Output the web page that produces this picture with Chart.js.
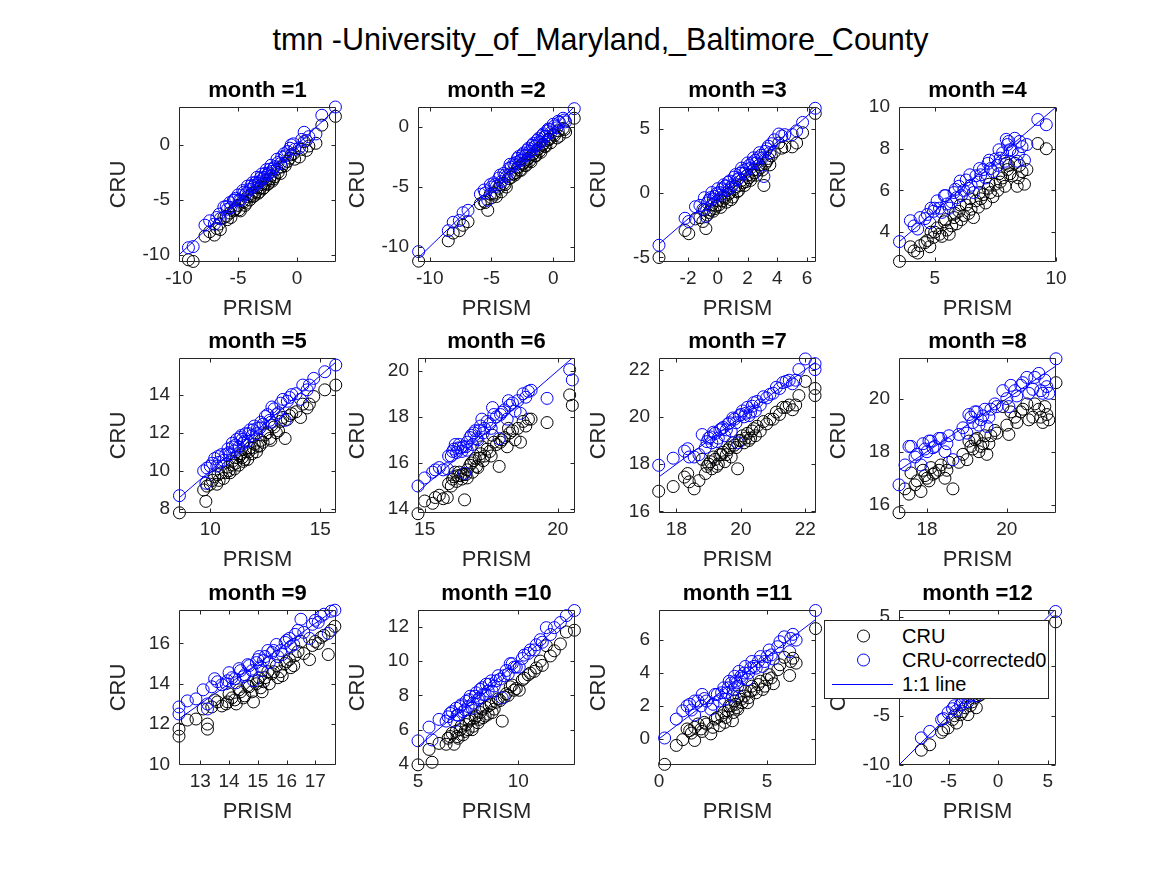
<!DOCTYPE html>
<html>
<head>
<meta charset="utf-8">
<script src="https://cdn.jsdelivr.net/npm/chart.js@4.4.1/dist/chart.umd.min.js"></script>
<style>
  body { margin: 0; background: #fff; }
  #fig { position: relative; width: 1167px; height: 875px; background: #fff; overflow: hidden;
         font-family: "Liberation Sans", Arial, Helvetica, sans-serif; }
  #fig canvas { position: absolute; }
  #suptitle { position: absolute; left: 17px; top: 20px; width: 1167px; text-align: center;
              font-size: 30.5px; line-height: 38px; color: #000; }
  #legend { position: absolute; left: 824px; top: 620px; width: 223px; height: 77px;
            border: 1px solid #262626; background: #fff; z-index: 5; }
  #legend svg { position: absolute; left: 0; top: 0; }
  #legend span { position: absolute; left: 77px; font-size: 20px; line-height: 22px; color: #000; white-space: nowrap; }
</style>
</head>
<body>
<div id="fig">
  <div id="suptitle">tmn -University_of_Maryland,_Baltimore_County</div>
  <div id="legend">
    <svg width="223" height="77">
      <circle cx="38.5" cy="15" r="6" fill="none" stroke="#000" stroke-width="1"/>
      <circle cx="38.5" cy="39" r="6" fill="none" stroke="#0000ff" stroke-width="1"/>
      <line x1="7" y1="63.5" x2="68" y2="63.5" stroke="#0000ff" stroke-width="1"/>
    </svg>
    <span style="top:4px">CRU</span>
    <span style="top:28px">CRU-corrected0</span>
    <span style="top:52px">1:1 line</span>
  </div>
</div>
<script>
// PRISM (x), CRU (black) and CRU-corrected0 (blue) per month
const prismM1 = [-9.2,-8.8,-7.8,-7.4,-7.0,-6.8,-6.5,-6.2,-5.9,-5.7,-5.4,-5.2,-5.0,-4.8,-4.6,-4.4,-4.2,-4.0,-3.8,-3.6,-3.4,-3.2,-3.0,-2.8,-2.6,-2.4,-2.2,-2.0,-1.7,-1.4,-1.1,-0.8,-0.5,-0.2,0.2,0.6,1.0,1.6,2.1,3.25,
  -6.6,-6.0,-5.6,-5.3,-4.9,-4.5,-4.3,-3.9,-3.7,-3.5,-3.3,-3.1,-2.9,-2.7,-2.5,-2.3,-2.1,-1.9,-1.6,-1.3,-1.0,-0.6,-0.3,0.4,0.8];
const cruM1 = [-10.45,-10.6,-8.3,-7.9,-8.2,-7.6,-7.7,-6.6,-6.8,-6.2,-6.0,-5.8,-5.5,-6.0,-5.1,-5.5,-4.7,-5.0,-4.4,-4.6,-3.9,-4.3,-3.6,-3.9,-3.2,-3.5,-2.8,-3.1,-2.2,-2.6,-1.7,-1.5,-0.9,-1.3,-1.1,0.3,-0.1,0.15,1.8,2.6,
  -7.2,-6.5,-6.6,-5.9,-5.9,-5.2,-5.3,-4.6,-4.7,-4.3,-4.4,-3.9,-4.0,-3.5,-3.6,-3.1,-3.3,-2.9,-2.5,-2.0,-1.9,-1.2,-0.8,-0.4,-0.5];
const corrM1 = [-9.35,-9.25,-7.3,-6.9,-7.2,-6.6,-6.7,-5.65,-5.85,-5.25,-5.05,-4.85,-4.55,-5.05,-4.15,-4.55,-3.75,-4.05,-3.45,-3.65,-2.95,-3.35,-2.65,-2.95,-2.25,-2.55,-1.85,-2.15,-1.3,-1.7,-0.8,-0.6,0.0,-0.4,-0.25,1.15,0.75,1.0,2.7,3.45,
  -6.3,-5.6,-5.7,-5.0,-5.0,-4.3,-4.4,-3.7,-3.8,-3.4,-3.5,-3.0,-3.1,-2.6,-2.7,-2.2,-2.4,-2.0,-1.6,-1.1,-1.0,-0.3,0.1,0.5,0.4];

const prismM2 = [-10.9,-8.5,-8.1,-7.6,-7.3,-6.9,-5.6,-5.3,-5.0,-4.8,-4.6,-4.4,-4.2,-4.0,-3.8,-3.6,-3.4,-3.2,-3.0,-2.8,-2.6,-2.4,-2.2,-2.0,-1.8,-1.6,-1.4,-1.2,-1.0,-0.8,-0.6,-0.4,-0.2,0.0,0.3,0.5,0.8,1.0,1.7,
  -5.9,-5.5,-5.1,-4.7,-4.3,-3.9,-3.5,-3.1,-2.9,-2.7,-2.5,-2.3,-2.1,-1.9,-1.7,-1.5,-1.3,-1.1,-0.9,-0.7,-0.5,-0.3,0.1,0.4,0.9];
const cruM2 = [-11.2,-9.5,-8.85,-8.65,-8.2,-7.9,-6.2,-6.95,-5.9,-5.5,-5.8,-5.1,-5.4,-4.7,-5.0,-4.3,-4.2,-3.9,-3.8,-3.3,-3.6,-3.0,-3.2,-2.6,-2.9,-2.2,-2.4,-1.8,-2.1,-1.4,-1.6,-1.0,-1.3,-0.6,-0.9,-0.75,-0.1,-0.4,0.75,
  -6.4,-6.3,-5.6,-5.6,-4.8,-4.8,-3.9,-4.0,-3.4,-3.6,-3.1,-3.2,-2.7,-2.8,-2.3,-2.4,-1.9,-2.0,-1.5,-1.6,-1.1,-1.0,-0.7,-0.3,-0.2];
const corrM2 = [-10.4,-8.65,-7.95,-7.8,-7.15,-6.95,-5.25,-6.1,-5.0,-4.65,-4.95,-4.25,-4.55,-3.85,-4.15,-3.45,-3.35,-3.05,-2.95,-2.45,-2.75,-2.15,-2.35,-1.75,-2.05,-1.35,-1.55,-0.95,-1.25,-0.55,-0.75,-0.15,-0.45,0.25,-0.05,0.4,0.75,0.45,1.55,
  -5.6,-5.5,-4.8,-4.8,-4.0,-4.0,-3.1,-3.2,-2.6,-2.8,-2.3,-2.4,-1.9,-2.0,-1.5,-1.6,-1.1,-1.2,-0.7,-0.8,-0.3,-0.2,0.1,0.5,0.6];

const prismM3 = [-3.95,-2.2,-1.95,-1.5,-1.2,-0.9,-0.8,-0.6,-0.4,-0.2,0.0,0.2,0.4,0.6,0.8,1.0,1.2,1.4,1.6,1.8,2.0,2.2,2.4,2.6,2.8,3.0,3.1,3.3,3.5,3.8,4.1,4.5,5.3,5.7,6.55,
  -1.0,-0.7,-0.5,-0.3,-0.1,0.1,0.3,0.5,0.7,0.9,1.1,1.3,1.5,1.7,1.9,2.1,2.3,2.5,2.7,2.9,3.2,3.4,3.6,4.3,5.0];
const cruM3 = [-5.0,-2.9,-3.15,-2.0,-1.9,-1.3,-2.75,-1.5,-0.9,-1.2,-0.6,-1.1,-0.3,-0.7,0.0,-0.3,0.5,0.2,1.0,0.6,1.4,1.0,1.8,1.4,2.2,1.8,0.6,2.5,2.2,3.2,3.9,3.6,3.9,4.7,6.2,
  -2.2,-1.7,-1.3,-1.4,-1.0,-0.9,-0.6,-0.4,-0.1,-0.5,0.3,0.1,0.6,0.8,0.9,1.2,1.4,1.6,1.8,2.0,2.3,2.7,2.9,3.5,3.6];
const corrM3 = [-4.05,-1.95,-2.2,-1.05,-0.95,-0.35,-1.8,-0.55,0.05,-0.25,0.35,-0.15,0.65,0.25,0.95,0.65,1.45,1.15,1.95,1.55,2.35,1.95,2.75,2.35,3.15,2.75,1.3,3.45,3.15,4.15,4.6,4.55,4.85,5.5,6.6,
  -1.25,-0.75,-0.35,-0.45,-0.05,0.05,0.35,0.55,0.85,0.45,1.25,1.05,1.55,1.75,1.85,2.15,2.35,2.55,2.75,2.95,3.25,3.65,3.85,4.45,4.55];

const prismM4 = [3.55,4.0,4.15,4.4,4.7,4.95,5.1,5.2,5.4,5.5,5.6,5.8,5.9,6.0,6.2,6.3,6.4,6.6,6.7,6.8,7.0,7.1,7.2,7.4,7.5,7.6,7.8,7.9,8.0,8.2,8.3,8.4,8.6,8.8,9.25,9.6,
  4.3,4.6,4.8,5.0,5.3,5.7,6.1,6.5,6.9,7.3,7.7,8.1,8.5,8.7,6.05,6.45,6.85,7.25,7.65,8.05,5.45,5.85,4.85,8.45,7.95];
const cruM4 = [2.6,3.3,3.1,3.35,3.6,3.75,4.2,3.9,4.5,4.1,3.9,4.7,4.4,5.0,4.8,5.3,4.9,4.7,5.5,5.2,5.8,5.4,6.1,5.7,6.3,6.0,6.6,6.2,7.0,6.7,7.3,6.2,6.9,7.0,8.25,8.0,
  3.0,3.5,3.3,4.0,3.8,4.3,4.6,5.1,5.6,5.9,6.4,6.8,7.2,6.3,5.3,5.6,5.9,6.3,6.8,7.2,4.6,4.9,4.0,6.6,7.3];
const corrM4 = [3.55,4.55,4.3,4.7,4.85,5.0,5.5,5.15,5.75,5.35,5.15,5.9,5.65,6.2,6.0,6.5,6.1,5.9,6.7,6.4,7.0,6.6,7.3,6.9,7.5,7.2,7.8,7.4,8.2,7.9,8.5,7.4,8.1,8.2,9.4,9.15,
  4.15,4.65,4.45,5.15,4.95,5.45,5.75,6.25,6.75,7.05,7.55,7.95,8.35,7.45,6.45,6.75,7.05,7.45,7.95,8.35,5.75,6.05,5.15,7.75,8.45];

const prismM5 = [8.6,9.8,9.85,9.7,10.1,10.3,10.5,10.6,10.8,10.9,11.0,11.1,11.2,11.3,11.4,11.5,11.6,11.7,11.8,11.9,12.0,12.1,12.3,12.5,12.7,12.9,13.0,13.2,13.4,13.7,14.1,14.2,14.5,14.7,15.2,15.7,
  10.0,10.2,10.4,10.7,11.0,11.15,11.35,11.55,11.75,11.95,12.15,12.4,12.6,12.8,13.1,13.3,13.5,13.9,14.4,10.35,10.85,11.45,12.25,12.75,13.6];
const cruM5 = [7.8,8.4,9.2,9.0,9.5,9.3,9.9,9.6,10.2,9.9,10.5,10.1,10.7,10.3,10.9,10.5,11.0,10.6,11.2,10.9,11.4,11.0,11.6,11.9,11.7,12.3,12.0,12.6,11.7,13.0,12.8,13.5,13.5,13.9,14.25,14.5,
  9.3,9.7,9.5,9.9,10.3,10.4,10.8,10.6,11.0,11.2,11.3,11.5,12.0,12.4,12.1,12.8,12.7,13.1,13.3,9.8,10.0,10.7,11.3,11.6,12.9];
const corrM5 = [8.7,9.35,10.15,10.0,10.4,10.25,10.85,10.55,11.15,10.85,11.45,11.05,11.65,11.25,11.85,11.45,11.95,11.55,12.15,11.85,12.35,11.95,12.55,12.85,12.65,13.25,12.95,13.55,12.65,14.0,13.75,14.5,14.5,14.85,15.2,15.55,
  10.25,10.65,10.45,10.85,11.25,11.35,11.75,11.55,11.95,12.15,12.25,12.45,12.95,13.35,13.05,13.75,13.65,14.05,14.25,10.75,10.95,11.65,12.25,12.55,13.85];

const prismM6 = [14.75,15.0,15.3,15.55,15.7,15.85,16.0,16.1,16.2,16.3,16.4,16.5,16.55,16.7,16.8,16.9,17.0,17.1,17.2,17.35,17.5,17.6,17.8,17.9,18.1,18.2,18.4,18.6,18.8,19.0,19.6,20.45,20.55,
  15.9,16.05,16.15,16.25,16.35,16.45,16.6,16.75,16.85,17.05,17.25,17.45,17.7,17.85,18.0,18.3,18.5,18.7,18.9,16.6,17.15,17.55,18.15,16.95,15.4];
const cruM6 = [13.8,14.35,14.25,14.6,14.45,14.5,15.0,15.4,15.2,15.6,15.3,14.4,15.5,15.9,15.6,16.2,15.8,16.4,16.1,16.6,16.3,16.9,15.85,17.0,16.7,17.3,17.0,16.9,17.6,17.9,17.75,18.95,18.5,
  15.1,15.3,15.6,15.45,15.45,15.5,15.7,16.0,16.1,16.2,16.3,16.5,16.8,16.9,17.1,17.4,17.5,17.8,17.9,15.35,16.7,17.2,17.5,15.85,14.5];
const corrM6 = [15.0,15.35,15.6,15.8,15.7,15.75,16.3,16.6,16.45,16.8,16.5,15.55,16.7,17.1,16.8,17.4,17.0,17.6,17.3,17.8,17.5,18.1,17.05,18.2,17.9,18.5,18.25,18.15,18.85,19.15,18.8,20.05,19.6,
  16.3,16.5,16.8,16.65,16.65,16.7,16.9,17.2,17.3,17.4,17.5,17.7,18.0,18.1,18.3,18.6,18.7,19.0,19.1,16.55,17.9,18.4,18.7,17.05,15.7];

const prismM7 = [17.45,17.9,18.25,18.4,18.55,18.7,18.9,19.0,19.1,19.2,19.3,19.4,19.5,19.6,19.7,19.8,19.9,20.0,20.1,20.2,20.3,20.4,20.6,20.8,21.0,21.2,21.4,21.6,21.8,22.0,22.3,22.3,
  18.95,19.05,19.15,19.25,19.35,19.45,19.55,19.65,19.75,19.85,19.95,20.05,20.15,20.25,20.35,20.5,20.7,20.9,21.1,21.3,21.5,18.35,18.8,21.7,20.45];
const cruM7 = [16.85,17.05,17.45,17.25,16.95,17.3,17.6,18.0,17.8,18.2,18.0,18.4,18.1,18.6,18.3,18.8,17.8,19.0,18.9,19.3,19.1,19.5,19.4,19.7,19.9,20.1,20.4,20.3,20.9,21.5,21.2,20.9,
  17.9,18.1,18.3,17.9,18.4,18.5,18.4,18.7,18.9,18.7,19.0,19.2,19.1,19.0,19.4,19.6,19.8,19.9,20.2,20.4,20.5,17.6,18.2,20.5,19.2];
const corrM7 = [17.95,18.25,18.55,18.3,18.3,18.4,18.7,19.1,18.9,19.3,19.1,19.5,19.2,19.7,19.4,19.9,18.9,20.1,20.0,20.4,20.2,20.6,20.5,20.8,21.0,21.2,21.5,21.4,22.0,22.45,22.25,22.0,
  18.95,19.15,19.35,18.95,19.45,19.55,19.45,19.75,19.95,19.75,20.05,20.25,20.15,20.05,20.45,20.65,20.85,20.95,21.25,21.45,21.55,18.65,19.25,21.55,20.25];

const prismM8 = [17.3,17.45,17.55,17.7,17.85,17.95,18.05,18.15,18.3,18.45,18.65,18.8,18.9,19.0,19.1,19.2,19.3,19.4,19.5,19.6,19.75,19.9,20.05,20.2,20.35,20.5,20.65,20.8,20.9,21.0,21.23,
  17.6,17.75,17.9,18.0,18.1,18.2,18.35,18.5,19.05,19.15,19.25,19.35,19.45,19.55,20.1,20.25,20.4,20.55,20.7,20.85,20.95,21.05,18.55,19.7,20.0];
const cruM8 = [15.7,16.6,16.4,16.75,16.5,17.1,16.9,17.15,17.3,17.0,16.6,17.6,17.9,17.7,18.2,18.45,18.0,18.3,17.9,18.6,18.7,19.7,18.65,19.3,19.5,19.8,19.3,19.6,19.1,19.4,20.6,
  17.2,16.9,17.3,17.0,17.4,17.2,17.5,17.3,18.4,18.1,18.5,18.2,18.6,18.3,19.5,19.1,19.6,19.2,19.8,19.3,19.7,19.2,17.6,18.8,19.0];
const corrM8 = [16.75,17.5,18.2,17.8,17.5,18.1,18.4,18.15,18.5,18.0,17.7,18.65,18.9,18.7,19.3,19.5,19.0,19.35,18.95,19.6,19.7,20.3,19.7,20.3,20.5,20.8,20.35,20.95,20.2,20.45,21.5,
  18.2,17.9,18.3,18.0,18.4,18.2,18.5,18.3,19.4,19.1,19.5,19.2,19.6,19.3,20.5,20.1,20.6,20.2,20.8,20.3,20.7,20.2,18.6,19.8,20.0];

const prismM9 = [12.26,12.26,12.55,12.85,13.1,13.25,13.25,13.4,13.6,13.9,14.1,14.25,14.4,14.55,14.7,14.85,15.0,15.1,15.25,15.4,15.55,15.7,15.85,16.0,16.15,16.3,16.5,16.8,17.0,17.2,17.45,17.55,17.68,
  13.5,13.75,14.0,14.2,14.35,14.5,14.65,14.8,14.95,15.05,15.2,15.35,15.5,15.65,15.8,15.95,16.1,16.25,16.4,16.6,16.9,17.1,17.3,13.95,15.15];
const cruM9 = [11.4,11.75,12.2,12.25,12.75,12.0,11.75,12.85,13.1,13.0,13.3,13.0,13.6,13.4,13.85,13.1,14.15,13.8,14.3,14.0,14.6,14.3,14.4,15.1,14.8,15.4,16.1,15.2,16.1,16.3,15.45,16.65,16.85,
  13.2,12.9,13.5,13.2,13.7,13.3,13.9,13.6,14.0,14.3,14.1,14.6,14.5,14.9,14.6,15.0,15.2,14.9,15.6,15.5,15.9,16.0,16.4,13.1,13.6];
const corrM9 = [12.5,12.85,13.15,13.25,13.7,13.0,12.75,13.85,14.1,14.0,14.3,14.05,14.65,14.45,14.9,14.15,15.2,14.85,15.35,15.05,15.65,15.35,15.45,16.15,15.85,16.45,17.2,16.25,17.15,17.35,16.5,17.6,17.65,
  14.25,13.95,14.55,14.25,14.75,14.35,14.95,14.65,15.05,15.35,15.15,15.65,15.55,15.95,15.65,16.05,16.25,15.95,16.65,16.55,16.95,17.05,17.45,14.15,14.65];

const prismM10 = [5.0,5.55,5.7,6.05,6.4,6.6,6.8,6.9,7.0,7.1,7.25,7.4,7.5,7.6,7.75,7.9,8.0,8.1,8.25,8.4,8.5,8.65,8.8,9.0,9.2,9.4,9.6,9.8,10.05,10.3,10.6,10.9,11.2,11.4,11.8,12.4,12.8,
  6.5,6.7,6.95,7.15,7.35,7.55,7.7,7.85,8.05,8.2,8.35,8.55,8.7,8.9,9.1,9.3,9.5,9.7,9.9,10.2,10.5,10.8,11.1,11.6,12.1];
const cruM10 = [3.95,4.85,4.1,5.2,5.15,5.6,5.15,5.9,5.5,6.0,5.7,6.3,6.0,6.6,6.2,6.8,6.4,7.0,6.7,7.3,6.9,7.5,7.2,7.8,6.5,8.1,8.5,8.3,8.3,9.0,9.3,9.6,9.75,10.9,10.6,11.7,11.8,
  5.5,5.8,5.6,6.2,5.9,6.5,6.0,6.7,6.6,7.2,6.8,7.4,7.0,7.6,7.7,7.9,8.0,8.6,8.4,8.9,9.2,9.4,10.0,10.3,11.0];
const corrM10 = [5.35,6.15,5.4,6.6,6.5,6.95,6.5,7.25,6.85,7.35,7.05,7.65,7.35,7.95,7.55,8.15,7.75,8.35,8.05,8.65,8.25,8.85,8.55,9.15,7.85,9.45,9.85,9.65,9.65,10.35,10.65,10.95,11.1,11.95,11.95,12.65,12.95,
  6.75,7.05,6.85,7.45,7.15,7.75,7.25,7.95,7.85,8.45,8.05,8.65,8.25,8.85,8.95,9.15,9.25,9.85,9.65,10.15,10.45,10.65,11.25,11.55,12.25];

const prismM11 = [0.26,0.8,1.1,1.42,1.65,1.65,2.0,2.1,2.4,2.6,2.8,3.0,3.1,3.25,3.4,3.5,3.6,3.7,3.85,4.0,4.15,4.3,4.5,4.7,4.9,5.1,5.3,5.5,5.8,6.05,6.2,6.35,7.25,
  1.3,1.5,1.8,1.95,2.2,2.5,2.7,2.9,3.05,3.2,3.35,3.45,3.55,3.65,3.8,3.95,4.1,4.25,4.4,4.6,4.8,5.0,5.2,5.6,6.1];
const cruM11 = [-1.55,-0.4,-0.05,0.5,-0.1,0.7,0.45,1.0,0.3,1.2,0.8,1.6,1.3,2.0,1.1,2.3,1.9,2.6,2.2,2.9,2.5,3.2,2.8,3.5,3.2,3.9,3.35,4.2,4.95,3.85,4.9,4.6,6.7,
  0.6,0.35,0.9,0.6,0.9,0.7,1.3,1.4,1.0,1.7,2.0,1.6,2.1,1.8,2.4,2.6,2.2,2.9,3.0,3.3,3.0,3.6,3.7,4.5,4.7];
const corrM11 = [0.05,1.2,1.7,2.1,1.45,2.3,2.7,2.45,1.8,2.7,2.3,3.1,2.8,3.5,2.6,3.8,3.4,4.1,3.7,4.4,4.0,4.7,4.3,5.0,4.7,5.4,4.85,5.6,6.2,5.3,6.35,6.0,7.8,
  2.0,1.75,2.3,2.0,2.3,2.1,2.7,2.8,2.4,3.1,3.4,3.0,3.5,3.2,3.8,4.0,3.6,4.3,4.4,4.7,4.4,5.0,5.1,5.9,6.1];

const prismM12 = [-7.75,-6.9,-5.7,-5.5,-5.05,-4.6,-4.2,-3.6,-3.05,-2.6,-2.2,-1.8,-1.4,-1.0,-0.6,-0.2,0.2,0.6,1.0,1.5,2.0,2.6,3.2,4.0,5.8,
  -4.4,-3.8,-3.3,-2.8,-2.4,-2.0,-1.6,-1.2,-0.8,-0.4,0.0,0.4,0.8,1.2,1.8,2.3,2.9,3.6];
const cruM12 = [-8.5,-7.95,-6.7,-6.45,-6.25,-5.4,-5.75,-4.6,-4.9,-3.6,-4.2,-2.9,-2.3,-2.1,-1.4,-1.1,-0.6,-0.5,0.2,0.5,1.1,1.5,2.4,3.0,4.5,
  -5.0,-4.9,-4.2,-4.0,-3.2,-3.0,-2.4,-1.9,-1.8,-1.0,-0.9,-0.2,0.0,0.5,0.8,1.6,1.9,2.7];
const corrM12 = [-7.25,-6.6,-5.4,-5.3,-4.7,-4.3,-4.5,-3.6,-3.6,-2.5,-3.0,-1.8,-1.2,-0.9,-0.3,0.0,0.5,0.6,1.3,1.5,2.2,2.5,3.4,4.0,5.55,
  -4.0,-3.9,-3.2,-3.0,-2.2,-2.0,-1.4,-0.9,-0.8,0.0,0.1,0.8,1.0,1.5,1.8,2.6,2.9,3.7];

// axis limits and tick labels per month
const xLimM1 = [-10, 3.3],     yLimM1 = [-10.65, 3.45], xTicksM1 = [-10, -5, 0],         yTicksM1 = [-10, -5, 0];
const xLimM2 = [-10.95, 1.76], yLimM2 = [-11.27, 1.69], xTicksM2 = [-10, -5, 0],         yTicksM2 = [-10, -5, 0];
const xLimM3 = [-3.95, 6.6],   yLimM3 = [-5.35, 6.7],   xTicksM3 = [-2, 0, 2, 4, 6],     yTicksM3 = [-5, 0, 5];
const xLimM4 = [3.53, 10],     yLimM4 = [2.57, 10],     xTicksM4 = [5, 10],              yTicksM4 = [4, 6, 8, 10];
const xLimM5 = [8.58, 15.71],  yLimM5 = [7.79, 15.92],  xTicksM5 = [10, 15],             yTicksM5 = [8, 10, 12, 14];
const xLimM6 = [14.75, 20.65], yLimM6 = [13.83, 20.55], xTicksM6 = [15, 20],             yTicksM6 = [14, 16, 18, 20];
const xLimM7 = [17.46, 22.33], yLimM7 = [15.93, 22.49], xTicksM7 = [18, 20, 22],         yTicksM7 = [16, 18, 20, 22];
const xLimM8 = [17.3, 21.23],  yLimM8 = [15.69, 21.53], xTicksM8 = [18, 20],             yTicksM8 = [16, 18, 20];
const xLimM9 = [12.26, 17.72], yLimM9 = [9.97, 17.66],  xTicksM9 = [13, 14, 15, 16, 17], yTicksM9 = [10, 12, 14, 16];
const xLimM10 = [5, 12.83],    yLimM10 = [3.94, 12.98], xTicksM10 = [5, 10],             yTicksM10 = [4, 6, 8, 10, 12];
const xLimM11 = [0, 7.27],     yLimM11 = [-1.59, 7.83], xTicksM11 = [0, 5],              yTicksM11 = [0, 2, 4, 6];
const xLimM12 = [-10, 5.84],   yLimM12 = [-10, 5.7],    xTicksM12 = [-10, -5, 0, 5],     yTicksM12 = [-10, -5, 0, 5];

const monthNums = [1, 2, 3, 4, 5, 6, 7, 8, 9, 10, 11, 12];

const panels = [
  [prismM1, cruM1, corrM1, xLimM1, yLimM1, xTicksM1, yTicksM1],
  [prismM2, cruM2, corrM2, xLimM2, yLimM2, xTicksM2, yTicksM2],
  [prismM3, cruM3, corrM3, xLimM3, yLimM3, xTicksM3, yTicksM3],
  [prismM4, cruM4, corrM4, xLimM4, yLimM4, xTicksM4, yTicksM4],
  [prismM5, cruM5, corrM5, xLimM5, yLimM5, xTicksM5, yTicksM5],
  [prismM6, cruM6, corrM6, xLimM6, yLimM6, xTicksM6, yTicksM6],
  [prismM7, cruM7, corrM7, xLimM7, yLimM7, xTicksM7, yTicksM7],
  [prismM8, cruM8, corrM8, xLimM8, yLimM8, xTicksM8, yTicksM8],
  [prismM9, cruM9, corrM9, xLimM9, yLimM9, xTicksM9, yTicksM9],
  [prismM10, cruM10, corrM10, xLimM10, yLimM10, xTicksM10, yTicksM10],
  [prismM11, cruM11, corrM11, xLimM11, yLimM11, xTicksM11, yTicksM11],
  [prismM12, cruM12, corrM12, xLimM12, yLimM12, xTicksM12, yTicksM12],
];

// subplot box placement (px)
const boxLeft = [179, 418, 659, 899];
const boxTop = [107, 358, 610];
const boxW = 157, boxH = 155;
const padL = 90, padT = 30, padR = 25, padB = 60;

const axisColor = '#262626';
Chart.defaults.font.family = '"Liberation Sans", Arial, Helvetica, sans-serif';

// matlab style box with inward ticks on all four sides
const boxTicks = {
  id: 'boxTicks',
  afterDraw(chart) {
    const { ctx, chartArea: a, scales: { x, y } } = chart;
    const L = Math.round(a.left) + 0.5, R = Math.round(a.right) - 0.5;
    const T = Math.round(a.top) + 0.5, B = Math.round(a.bottom) - 0.5;
    const len = 4;
    ctx.save();
    ctx.strokeStyle = axisColor;
    ctx.lineWidth = 1;
    ctx.beginPath();
    ctx.rect(L, T, R - L, B - T);
    x.ticks.forEach(t => {
      const px = Math.round(x.getPixelForValue(t.value)) + 0.5;
      ctx.moveTo(px, B); ctx.lineTo(px, B - len);
      ctx.moveTo(px, T); ctx.lineTo(px, T + len);
    });
    y.ticks.forEach(t => {
      const py = Math.round(y.getPixelForValue(t.value)) + 0.5;
      ctx.moveTo(L, py); ctx.lineTo(L + len, py);
      ctx.moveTo(R, py); ctx.lineTo(R - len, py);
    });
    ctx.stroke();
    ctx.restore();
  }
};

const fig = document.getElementById('fig');
const legendEl = document.getElementById('legend');

panels.forEach((p, i) => {
  const [prism, cru, corr, xLim, yLim, xTicks, yTicks] = p;
  const col = i % 4, row = Math.floor(i / 4);
  const cv = document.createElement('canvas');
  cv.width = padL + boxW + padR;
  cv.height = padT + boxH + padB;
  cv.style.left = (boxLeft[col] - padL) + 'px';
  cv.style.top = (boxTop[row] - padT) + 'px';
  fig.insertBefore(cv, legendEl);

  new Chart(cv, {
    type: 'scatter',
    data: {
      datasets: [
        {
          label: 'CRU',
          data: prism.map((v, j) => ({ x: v, y: cru[j] })),
          pointStyle: 'circle', pointRadius: 6, pointBorderWidth: 1,
          pointBorderColor: '#000000', pointBackgroundColor: 'rgba(0,0,0,0)',
          clip: false, order: 3
        },
        {
          label: 'CRU-corrected0',
          data: prism.map((v, j) => ({ x: v, y: corr[j] })),
          pointStyle: 'circle', pointRadius: 6, pointBorderWidth: 1,
          pointBorderColor: '#0000ff', pointBackgroundColor: 'rgba(0,0,0,0)',
          clip: false, order: 2
        },
        {
          type: 'line',
          label: '1:1 line',
          data: [{ x: xLim[0], y: xLim[0] }, { x: xLim[1], y: xLim[1] }],
          borderColor: '#0000ff', borderWidth: 1, pointRadius: 0, fill: false,
          order: 1
        }
      ]
    },
    options: {
      responsive: false,
      animation: false,
      events: [],
      layout: { padding: { left: 0, top: 3, right: padR, bottom: 0 } },
      plugins: {
        legend: { display: false },
        tooltip: { enabled: false },
        title: {
          display: true, text: 'month =' + monthNums[i], fullSize: false,
          color: '#000', font: { size: 22, weight: 'bold', lineHeight: 1 },
          padding: { top: 0, bottom: 5 }
        }
      },
      scales: {
        x: {
          type: 'linear', min: xLim[0], max: xLim[1],
          afterBuildTicks: s => { s.ticks = xTicks.map(v => ({ value: v })); },
          afterFit: s => { s.height = padB; },
          grid: { display: false, drawTicks: false },
          border: { display: false },
          ticks: { color: axisColor, font: { size: 19 }, padding: 5, autoSkip: false, maxRotation: 0, minRotation: 0 },
          title: { display: true, text: 'PRISM', color: axisColor, font: { size: 22 }, padding: { top: 0, bottom: 0 } }
        },
        y: {
          type: 'linear', min: yLim[0], max: yLim[1],
          afterBuildTicks: s => { s.ticks = yTicks.map(v => ({ value: v })); },
          afterFit: s => { s.width = padL; },
          grid: { display: false, drawTicks: false },
          border: { display: false },
          ticks: { color: axisColor, font: { size: 19 }, padding: 9, autoSkip: false },
          title: { display: true, text: 'CRU', color: axisColor, font: { size: 22 }, padding: { top: 17, bottom: 0 } }
        }
      }
    },
    plugins: [boxTicks]
  });
});
</script>
</body>
</html>
